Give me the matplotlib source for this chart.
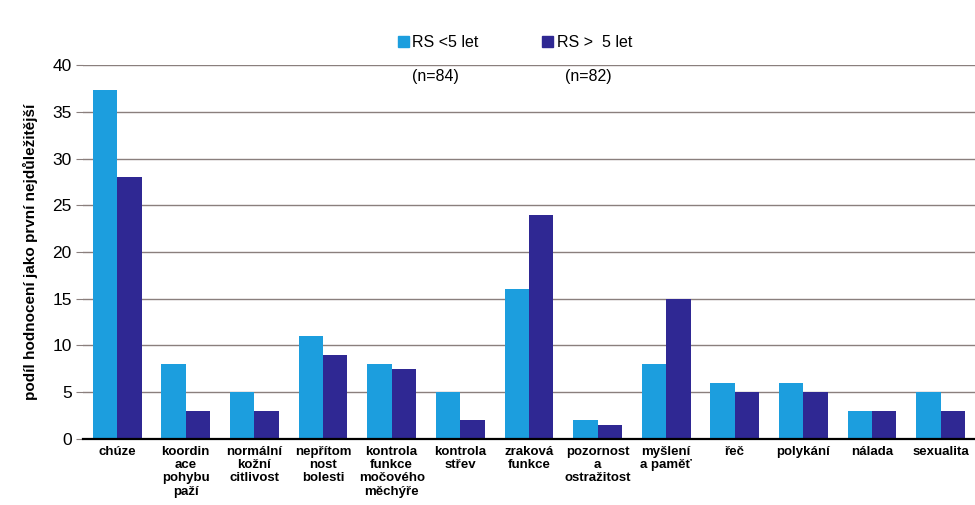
import numpy as np
import matplotlib
matplotlib.use("Agg")
import matplotlib.pyplot as plt
from matplotlib.patches import Patch

plt.rcParams['font.family'] = ['Liberation Sans', 'DejaVu Sans']

# data
categories = ["chúze", "koordin\nace\npohybu\npaží", "normální\nkožní\ncitlivost",
              "nepřítom\nnost\nbolesti", "kontrola\nfunkce\nmočového\nměchýře",
              "kontrola\nstřev", "zraková\nfunkce", "pozornost\na\nostražitost",
              "myšlení\na paměť", "řeč", "polykání", "nálada", "sexualita"]
rs_under5 = [37.3, 8, 5, 11, 8, 5, 16, 2, 8, 6, 6, 3, 5]
rs_over5 = [28, 3, 3, 9, 7.5, 2, 24, 1.5, 15, 5, 5, 3, 3]
series_names = ["RS <5 let", "RS >  5 let"]
n_labels = ["(n=84)", "(n=82)"]
yticks = [0, 5, 10, 15, 20, 25, 30, 35, 40]

c_light = "#1c9ede"
c_dark = "#2f2893"

fig = plt.figure(figsize=(9.75, 5.05), dpi=100)
ax = fig.add_axes([0.085, 0.131, 0.915, 0.74])

x = np.arange(len(categories))
w = 0.355
ax.bar(x - w / 2, rs_under5, w, color=c_light, zorder=3)
ax.bar(x + w / 2, rs_over5, w, color=c_dark, zorder=3)

ax.set_xlim(-0.5, len(categories) - 0.5)
ax.set_ylim(0, 40)
ax.set_yticks(yticks)
ax.yaxis.grid(True, color="#8a7f7d", linewidth=1.0, zorder=0)
ax.set_axisbelow(True)
ax.tick_params(axis="y", length=5, color="#8a7f7d", labelsize=12.5, pad=3)
ax.tick_params(axis="x", length=0, pad=5)
ax.set_xticks(x)
ax.set_xticklabels(categories, fontsize=9.5, fontweight="bold", linespacing=1.15, va="top")

for s in ["left", "right", "top"]:
    ax.spines[s].set_visible(False)
ax.spines["bottom"].set_color("black")
ax.spines["bottom"].set_linewidth(1.6)
ax.spines["bottom"].set_zorder(4)

ax.set_ylabel("podíl hodnocení jako první nejdůležitější", fontsize=11,
              fontweight="bold", labelpad=10)

handles = [Patch(color=c_light), Patch(color=c_dark)]
fig.legend(handles, series_names, loc="center", bbox_to_anchor=(0.528, 0.915),
           ncol=2, frameon=False, fontsize=11.5, handlelength=0.7, handleheight=0.7,
           handletextpad=0.2, columnspacing=4.0)
fig.text(0.447, 0.849, n_labels[0], fontsize=11.5, ha="center", va="center")
fig.text(0.603, 0.849, n_labels[1], fontsize=11.5, ha="center", va="center")

fig.savefig("out.png", dpi=100)
